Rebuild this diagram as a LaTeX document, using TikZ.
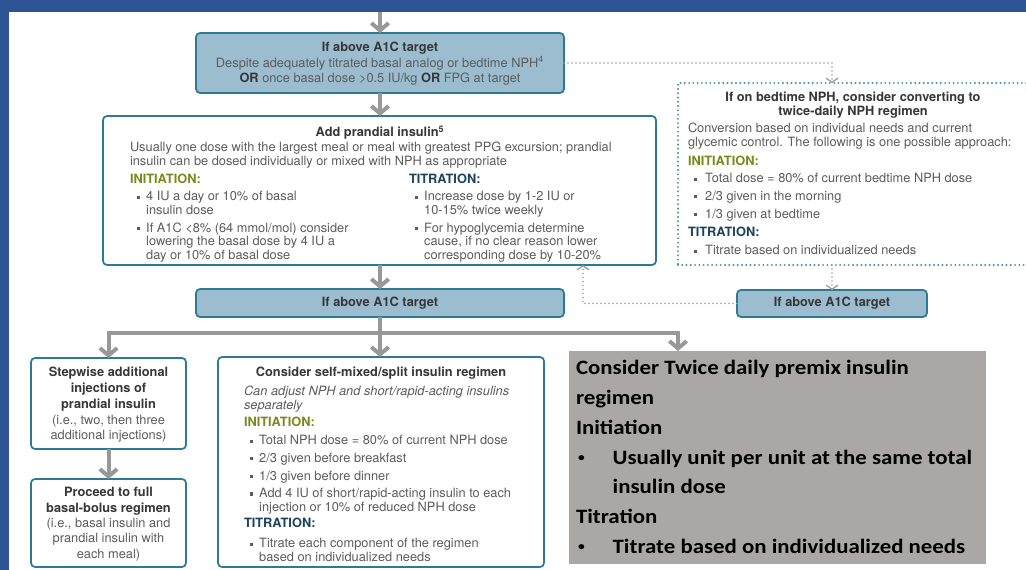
\documentclass[tikz,border=0pt]{standalone}
\usepackage{fontspec}
\setmainfont{TeX Gyre Heros}
\newfontfamily\gfont[FakeStretch=1.12]{Carlito}
\usetikzlibrary{arrows.meta,fit}

\definecolor{frameblue}{RGB}{46,84,150}
\definecolor{boxfill}{RGB}{156,189,208}
\definecolor{boxline}{RGB}{45,122,146}
\definecolor{arrgray}{RGB}{152,152,152}
\definecolor{dotgray}{RGB}{160,160,160}
\definecolor{dotteal}{RGB}{70,145,155}
\definecolor{headtxt}{RGB}{55,55,55}
\definecolor{bodytxt}{RGB}{92,92,92}
\definecolor{initgreen}{RGB}{122,136,28}
\definecolor{titblue}{RGB}{28,66,92}
\definecolor{premix}{RGB}{171,167,166}

\newcommand\sqb{\raisebox{0.17em}{\textcolor{bodytxt}{\rule{2.4pt}{2.4pt}}}}
\newcommand\mlines[2]{\begin{tabular}[t]{@{}#1@{}}#2\end{tabular}}
\newcommand\blist[2][4.5pt]{\begin{tabular}[t]{@{}l@{\hspace{#1}}l@{}}#2\end{tabular}}
\newcommand\hb[1]{\textbf{\textcolor{headtxt}{#1}}}
\newcommand\gl[1]{\multicolumn{2}{@{}l@{}}{#1}}
\newcommand\gbul{\hspace{1.5pt}\raisebox{2.2pt}{\fontsize{9}{9}\selectfont\textbullet}}

\begin{document}
\begin{tikzpicture}[x=0.75pt,y=-0.75pt,
  bluebox/.style={draw=boxline, fill=boxfill, line width=1.3pt, rounded corners=3pt, inner sep=0pt, outer sep=0pt},
  whitebox/.style={draw=boxline, fill=white, line width=1.3pt, rounded corners=3pt, inner sep=0pt, outer sep=0pt},
  dotbox/.style={draw=dotteal, fill=white, line width=1.6pt, dash pattern=on 0pt off 3.2pt, line cap=round, inner sep=0pt, outer sep=0pt},
  graybox/.style={fill=premix, inner sep=0pt, outer sep=0pt},
  arr/.style={draw=arrgray, line width=3pt, -{Straight Barb[length=5.5pt,width=13pt]}},
  dotarr/.style={draw=dotgray, line width=1.3pt, dash pattern=on 0pt off 3pt, line cap=round, -{Straight Barb[length=3pt,width=9pt,line width=1pt]}},
  tx/.style={inner sep=0pt, outer sep=0pt, text=bodytxt, font=\fontsize{9.6}{10.5}\selectfont},
  hd/.style={tx, text=headtxt, font=\fontsize{9.6}{10.5}\selectfont\bfseries},
  ini/.style={hd, text=initgreen, anchor=base west},
  tit/.style={hd, text=titblue, anchor=base west},
  lst/.style={tx, font=\fontsize{9.6}{10.2}\selectfont, anchor=base west}
]
\useasboundingbox (0,0) rectangle (1026,570);
\clip (0,0) rectangle (1026,570);
\fill[white] (0,0) rectangle (1026,570);
\fill[frameblue] (0,0) rectangle (1026,12);
\fill[frameblue] (0,0) rectangle (9,570);

% boxes
\node[bluebox, fit={(196,33)(564,93)}] (b1) {};
\node[whitebox, fit={(103,116)(656,265)}] (b2) {};
\node[dotbox, fit={(678,83)(1032,265)}] (rb) {};
\node[bluebox, fit={(196,289)(564,317)}] (b3) {};
\node[bluebox, fit={(737,290)(927,317)}] (b4) {};
\node[whitebox, fit={(31,358)(186,449)}] (b5) {};
\node[whitebox, fit={(31,479)(186,567)}] (b7) {};
\node[whitebox, fit={(218,357)(544,567)}] (b6) {};
\node[graybox, fit={(569,351)(986,564)}] (gb) {};

% coordinates
\coordinate (topc) at (380,12);
\coordinate (rbin) at (832,83);
\coordinate (b2port) at (583,265);
\coordinate (jn) at (380,333);
\coordinate (gbin) at (678,351);

% solid arrows
\draw[arr] (topc) -- (b1.north);
\draw[arr] (b1.south) -- (b1.south |- b2.north);
\draw[arr] (b2.south -| b3.north) -- (b3.north);
\draw[draw=arrgray, line width=3pt] (b3.south) -- (jn);
\draw[arr] (jn) -| (b5.north);
\draw[arr] (jn) -- (jn |- b6.north);
\draw[arr] (jn) -| (gbin);
\draw[arr] (b5.south) -- (b7.north);

% dotted arrows
\draw[dotarr] (b1.east) -| (rbin);
\draw[dotarr] (rb.south -| b4.north) -- (b4.north);
\draw[dotarr] (b4.west) -| (b2port);

% box 1 text
\node[tx, font=\fontsize{9.6}{11.6}\selectfont, anchor=base] (b1t) at (380,51.5)
  {\mlines{c}{\hb{If above A1C target}\\Despite adequately titrated basal analog or bedtime NPH\textsuperscript{4}\\\hb{OR} once basal dose >0.5 IU/kg \hb{OR} FPG at target}};

% box 2 text
\node[hd, anchor=base] (b2h) at (380,137) {Add prandial insulin\textsuperscript{5}};
\node[tx, anchor=base west] (b2p) at (130,152)
  {\mlines{l}{Usually one dose with the largest meal or meal with greatest PPG excursion; prandial\\insulin can be dosed individually or mixed with NPH as appropriate}};
\node[ini] (b2i) at (130,184) {INITIATION:};
\node[lst] (b2il) at (137,201) {\blist{\sqb & 4 IU a day or 10\% of basal\\ & insulin dose\\[3pt]
  \sqb & If A1C <8\% (64 mmol/mol) consider\\ & lowering the basal dose by 4 IU a\\ & day or 10\% of basal dose}};
\node[tit] (b2t) at (409,184) {TITRATION:};
\node[lst] (b2tl) at (415,201) {\blist{\sqb & Increase dose by 1-2 IU or\\ & 10-15\% twice weekly\\[3pt]
  \sqb & For hypoglycemia determine\\ & cause, if no clear reason lower\\ & corresponding dose by 10-20\%}};

% right dotted box text
\node[hd, anchor=base] (rbh) at (853,102) {\mlines{c}{If on bedtime NPH, consider converting to\\twice-daily NPH regimen}};
\node[tx, anchor=base west] (rbp) at (688,133) {\mlines{l}{Conversion based on individual needs and current\\glycemic control. The following is one possible approach:}};
\node[ini] (rbi) at (688,166) {INITIATION:};
\node[lst] (rbil) at (694,183) {\blist[6pt]{\sqb & Total dose = 80\% of current bedtime NPH dose\\[3pt]
  \sqb & 2/3 given in the morning\\[3pt] \sqb & 1/3 given at bedtime}};
\node[tit] (rbt) at (688,237) {TITRATION:};
\node[lst] (rbtl) at (694,255) {\blist[6pt]{\sqb & Titrate based on individualized needs}};

% box 3 and 4 text
\node[hd] (b3t) at (b3.center) {If above A1C target};
\node[hd] (b4t) at (b4.center) {If above A1C target};

% box 5 and 7 text
\node[tx, font=\fontsize{9.6}{11.8}\selectfont, anchor=base] (b5t) at (108.5,377)
  {\mlines{c}{\hb{Stepwise additional}\\\hb{injections of}\\\hb{prandial insulin}\\(i.e., two, then three\\additional injections)}};
\node[tx, font=\fontsize{9.6}{11.5}\selectfont, anchor=base] (b7t) at (108.5,497)
  {\mlines{c}{\hb{Proceed to full}\\\hb{basal-bolus regimen}\\(i.e., basal insulin and\\prandial insulin with\\each meal)}};

% box 6 text
\node[hd, anchor=base] (b6h) at (381,377) {Consider self-mixed/split insulin regimen};
\node[tx, font=\fontsize{9.6}{10.5}\selectfont\itshape, anchor=base west] (b6p) at (244,396)
  {\mlines{l}{Can adjust NPH and short/rapid-acting insulins\\separately}};
\node[ini] (b6i) at (244,427) {INITIATION:};
\node[lst] (b6il) at (250,445) {\blist{\sqb & Total NPH dose = 80\% of current NPH dose\\[3pt]
  \sqb & 2/3 given before breakfast\\[3pt] \sqb & 1/3 given before dinner\\[3pt]
  \sqb & Add 4 IU of short/rapid-acting insulin to each\\ & injection or 10\% of reduced NPH dose}};
\node[tit] (b6t) at (244,528) {TITRATION:};
\node[lst] (b6tl) at (250,548) {\blist{\sqb & Titrate each component of the regimen\\ & based on individualized needs}};

% gray premix box text
\node[inner sep=0pt, outer sep=0pt, text=black, anchor=base west,
  font=\gfont\fontsize{15.3}{22.3}\selectfont\bfseries] (gbt) at (576,375)
  {\begin{tabular}[t]{@{}p{27.5pt}@{}l@{}}
   \gl{Consider Twice daily premix insulin}\\
   \gl{regimen}\\
   \gl{Initiation}\\
   \gbul & Usually unit per unit at the same total\\
    & insulin dose\\
   \gl{Titration}\\
   \gbul & Titrate based on individualized needs
   \end{tabular}};
\end{tikzpicture}
\end{document}
